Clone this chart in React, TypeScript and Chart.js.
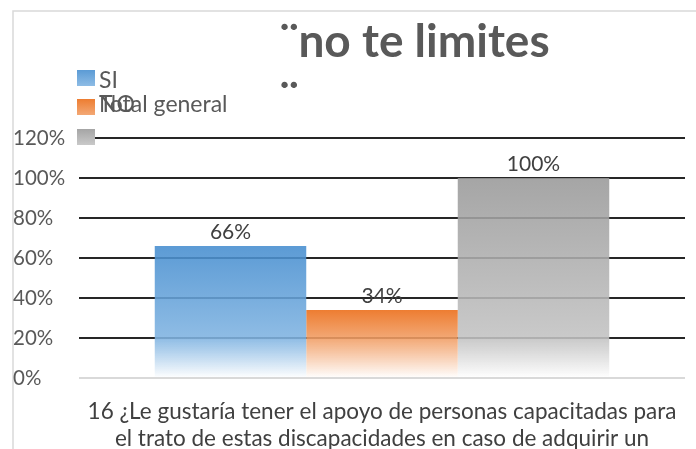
import React, { useEffect, useRef } from "react";
import { Chart, registerables } from "chart.js";

Chart.register(...registerables);

const categories: string[][] = [
  [
    "16 ¿Le gustaría tener el apoyo de personas capacitadas para",
    "el trato de estas discapacidades en caso de adquirir un",
  ],
];
const seriesNames = ["SI", "NO", "Total general"];
const siValues = [0.66];
const noValues = [0.34];
const totalValues = [1.0];
const titleLines = ["¨no te limites", "¨"];
const yMax = 1.2;
const yStep = 0.2;

const FONT = "Lato, 'Open Sans', sans-serif";
const baseColors = [
  [91, 155, 213],
  [237, 125, 49],
  [165, 165, 165],
];
const lightColors = [
  [142, 188, 229],
  [243, 168, 117],
  [201, 201, 201],
];
const ALPHA = 0.88;

function adj(c: number[]): string {
  const v = c.map((x) => Math.max(0, Math.round((x - (1 - ALPHA) * 255) / ALPHA)));
  return `rgba(${v[0]},${v[1]},${v[2]},${ALPHA})`;
}

function gradientFor(i: number) {
  return (ctx: any) => {
    const chart = ctx.chart;
    const y = chart.scales.y;
    if (!y || ctx.raw === undefined) return adj(baseColors[i]);
    const top = y.getPixelForValue(ctx.raw);
    const base = y.getPixelForValue(0);
    const fade = y.getPixelForValue(0.2);
    if (!isFinite(top) || base - top < 1) return adj(baseColors[i]);
    const g = chart.ctx.createLinearGradient(0, top, 0, base);
    g.addColorStop(0, adj(baseColors[i]));
    const f = Math.min(0.99, Math.max(0.01, (fade - top) / (base - top)));
    g.addColorStop(f, adj(lightColors[i]));
    g.addColorStop(1, "rgba(255,255,255,0.95)");
    return g;
  };
}

const decorPlugin = {
  id: "decor",
  beforeDraw(chart: any) {
    const c = chart.ctx;
    c.save();
    c.strokeStyle = "#d9d9d9";
    c.lineWidth = 1.5;
    c.beginPath();
    c.moveTo(13, chart.height);
    c.lineTo(13, 11);
    c.lineTo(chart.width, 11);
    c.stroke();
    c.restore();
  },
  afterDraw(chart: any) {
    const c = chart.ctx;
    c.save();
    // title
    c.fillStyle = "#595959";
    c.font = `bold 46px ${FONT}`;
    c.textAlign = "left";
    c.textBaseline = "alphabetic";
    c.fillText(titleLines[0], 280, 57);
    c.fillText(titleLines[1], 280, 115);
    // legend
    const boxY = [70, 99, 129];
    const textY = [81, 105, 105];
    c.font = `23px ${FONT}`;
    c.textBaseline = "middle";
    chart.data.datasets.forEach((ds: any, i: number) => {
      const g = c.createLinearGradient(0, boxY[i], 0, boxY[i] + 16);
      const bc = baseColors[i];
      const lc = lightColors[i];
      g.addColorStop(0, `rgb(${bc[0]},${bc[1]},${bc[2]})`);
      g.addColorStop(1, `rgb(${lc[0]},${lc[1]},${lc[2]})`);
      c.fillStyle = g;
      c.fillRect(77, boxY[i], 18, 16);
      c.fillStyle = "#595959";
      c.fillText(ds.label, 99, textY[i]);
    });
    // data labels
    c.fillStyle = "#404040";
    c.font = `21px ${FONT}`;
    c.textAlign = "center";
    c.textBaseline = "middle";
    chart.data.datasets.forEach((ds: any, i: number) => {
      const meta = chart.getDatasetMeta(i);
      meta.data.forEach((bar: any, j: number) => {
        const v = ds.data[j];
        c.fillText(`${Math.round(v * 100)}%`, bar.x, bar.y - 14);
      });
    });
    c.restore();
  },
};

export default function App() {
  const ref = useRef<HTMLCanvasElement>(null);
  useEffect(() => {
    if (!ref.current) return;
    const chart = new Chart(ref.current, {
      type: "bar",
      data: {
        labels: categories,
        datasets: [
          { label: seriesNames[0], data: siValues, backgroundColor: gradientFor(0) },
          { label: seriesNames[1], data: noValues, backgroundColor: gradientFor(1) },
          { label: seriesNames[2], data: totalValues, backgroundColor: gradientFor(2) },
        ],
      },
      options: {
        responsive: false,
        animation: false,
        layout: { padding: { left: 13, right: 11, top: 138, bottom: 0 } },
        plugins: {
          legend: { display: false },
          title: { display: false },
          tooltip: { enabled: false },
        },
        datasets: {
          bar: { categoryPercentage: 0.75, barPercentage: 1, borderWidth: 0 },
        },
        scales: {
          x: {
            grid: { display: false },
            border: { display: false },
            ticks: {
              color: "#404040",
              font: { family: FONT, size: 22.5, lineHeight: 1.22 },
              padding: 12,
              maxRotation: 0,
              autoSkip: false,
            },
            afterFit: (s: any) => {
              s.height = 71;
            },
          },
          y: {
            min: 0,
            max: yMax,
            border: { display: false },
            grid: {
              drawTicks: false,
              lineWidth: 2,
              color: (ctx: any) => (ctx.tick && ctx.tick.value === 0 ? "#d9d9d9" : "#262626"),
            },
            ticks: {
              stepSize: yStep,
              crossAlign: "far",
              padding: 0,
              color: "#595959",
              font: { family: FONT, size: 20.5 },
              callback: (v: any) => `${Math.round(Number(v) * 100)}%`,
            },
            afterFit: (s: any) => {
              s.width = 66;
            },
          },
        },
      },
      plugins: [decorPlugin],
    });
    return () => chart.destroy();
  }, []);
  return (
    <canvas
      ref={ref}
      width={696}
      height={449}
      style={{ position: "fixed", left: 0, top: 0, display: "block", background: "#fff" }}
    />
  );
}
